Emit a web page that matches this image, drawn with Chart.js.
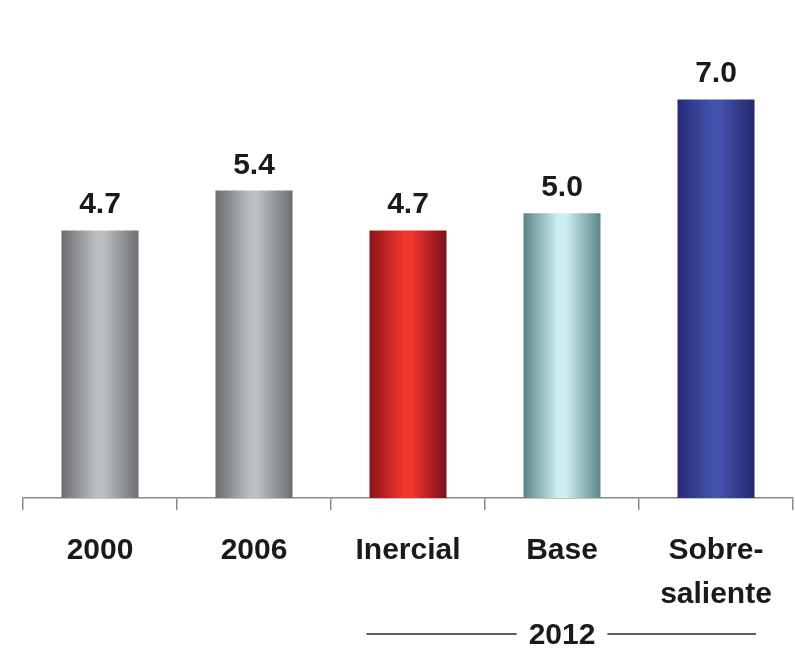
<!DOCTYPE html>
<html>
<head>
<meta charset="utf-8">
<script src="https://cdn.jsdelivr.net/npm/chart.js@4.4.0/dist/chart.umd.min.js"></script>
<style>
  html, body { margin:0; padding:0; background:#fff; }
  #wrap { width:795px; height:649px; position:relative; }
</style>
</head>
<body>
<div id="wrap"><canvas id="chart"></canvas></div>
<script>
// data
const categories = ['2000', '2006', 'Inercial', 'Base', ['Sobre-', 'saliente']];
const values = [4.7, 5.4, 4.7, 5.0, 7.0];
const valueLabels = ['4.7', '5.4', '4.7', '5.0', '7.0'];
const groupLabel = '2012';

// horizontal "cylinder" shading per bar: [left, highlight, right]
const shades = [
  ['#6a6c70', '#bcbfc1', '#6c6e71'],
  ['#6a6c70', '#bcbfc1', '#6c6e71'],
  ['#8c1418', '#f2352e', '#78101a'],
  ['#5a8488', '#cdeff1', '#5b8589'],
  ['#272a78', '#4152aa', '#25296f']
];

const FONT = '"Liberation Sans", Arial, Helvetica, sans-serif';

function barFill(ctx){
  const chart = ctx.chart;
  const xs = chart.scales.x;
  const s = shades[ctx.dataIndex] || shades[0];
  if (!xs || !chart.chartArea) return s[1];
  const cx = xs.getPixelForValue(ctx.dataIndex);
  const w = xs.width / categories.length * 0.5;
  const g = chart.ctx.createLinearGradient(cx - w/2, 0, cx + w/2, 0);
  g.addColorStop(0, s[0]);
  g.addColorStop(0.45, s[1]);
  g.addColorStop(0.55, s[1]);
  g.addColorStop(1, s[2]);
  return g;
}

const valueLabelPlugin = {
  id: 'valueLabels',
  afterDatasetsDraw(chart){
    const c = chart.ctx;
    const meta = chart.getDatasetMeta(0);
    c.save();
    c.font = 'bold 30px ' + FONT;
    c.fillStyle = '#1a1a1a';
    c.textAlign = 'center';
    c.textBaseline = 'alphabetic';
    meta.data.forEach((bar, i) => {
      c.fillText(valueLabels[i], bar.x, bar.y - 17);
    });
    c.restore();
  }
};

const groupPlugin = {
  id: 'groupLabel',
  afterDraw(chart){
    const c = chart.ctx;
    const xs = chart.scales.x;
    const step = xs.width / categories.length;
    const mid = xs.getPixelForValue(3);
    const left = xs.getPixelForValue(2) - step * 0.27;
    const right = xs.getPixelForValue(4) + step * 0.26;
    const y = 634;
    c.save();
    c.font = 'bold 30px ' + FONT;
    c.fillStyle = '#1a1a1a';
    c.textAlign = 'center';
    c.textBaseline = 'middle';
    c.fillText(groupLabel, mid, y + 2);
    const tw = c.measureText(groupLabel).width;
    c.strokeStyle = '#2a2a2a';
    c.lineWidth = 1.5;
    c.beginPath();
    c.moveTo(left, y); c.lineTo(mid - tw/2 - 12, y);
    c.moveTo(mid + tw/2 + 12, y); c.lineTo(right, y);
    c.stroke();
    c.restore();
  }
};

new Chart(document.getElementById('chart'), {
  type: 'bar',
  data: {
    labels: categories,
    datasets: [{
      data: values,
      backgroundColor: barFill,
      borderWidth: 0,
      barPercentage: 1,
      categoryPercentage: 0.5
    }]
  },
  options: {
    responsive: true,
    maintainAspectRatio: false,
    animation: false,
    layout: { padding: { left: 23, right: 2, top: 14, bottom: 14 } },
    plugins: { legend: { display: false }, tooltip: { enabled: false } },
    scales: {
      x: {
        grid: { display: true, drawOnChartArea: false, offset: true, tickLength: 12, color: '#8a8a8a', lineWidth: 1.5 },
        border: { display: true, color: '#8a8a8a', width: 1.5 },
        ticks: { color: '#1a1a1a', font: { family: FONT, size: 30, weight: 'bold', lineHeight: 1.45 }, padding: 19, maxRotation: 0, autoSkip: false }
      },
      y: { display: false, min: 0, max: 8.5 }
    }
  },
  plugins: [valueLabelPlugin, groupPlugin]
});
</script>
</body>
</html>
